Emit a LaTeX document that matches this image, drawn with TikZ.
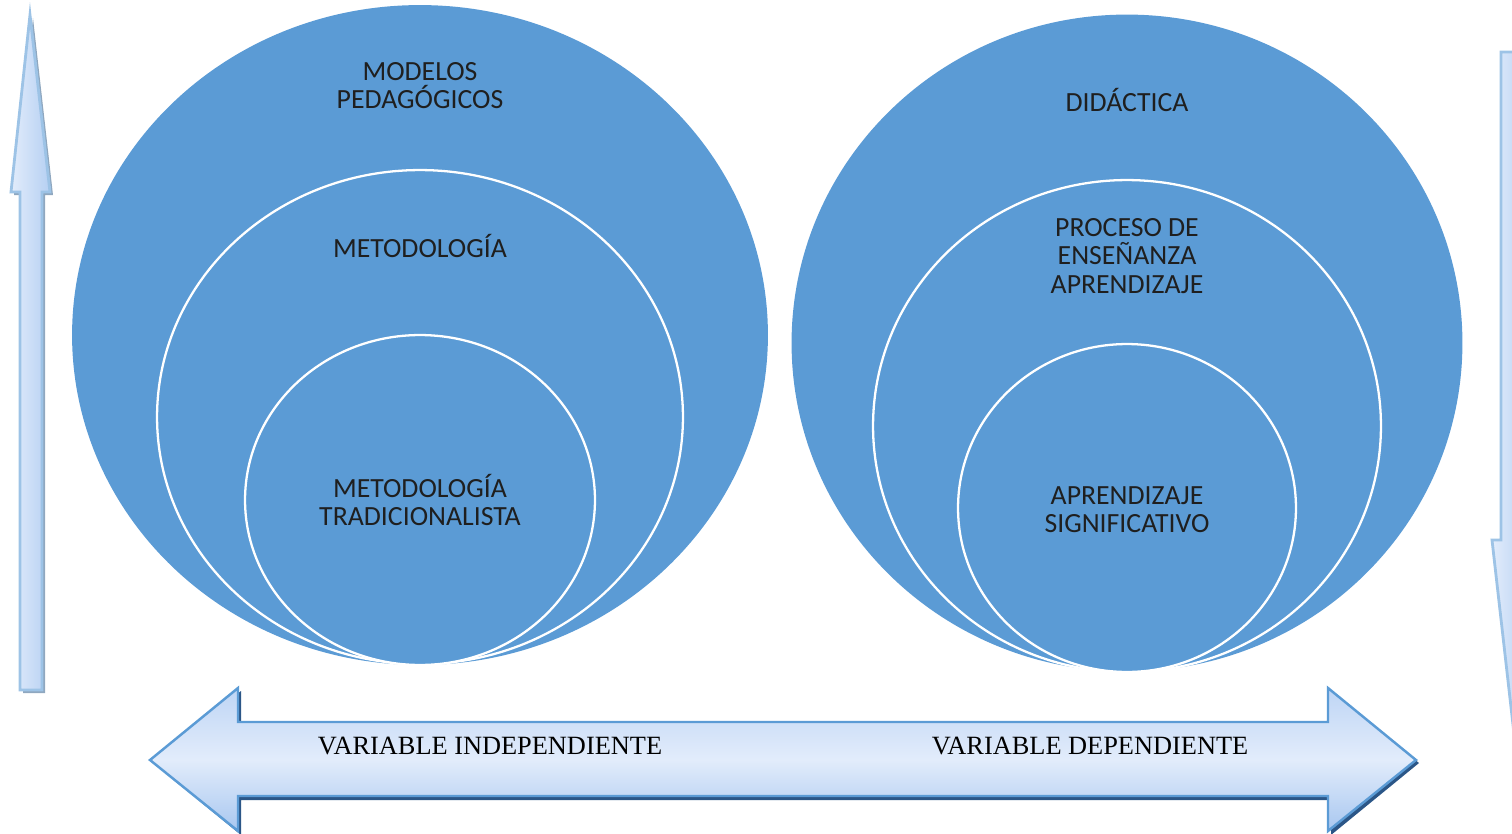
\documentclass[tikz,border=0pt]{standalone}
\usepackage{fontspec}
\setmainfont{Liberation Serif}
\newfontfamily\calfont{Carlito}
\usetikzlibrary{positioning, shapes.geometric}
\definecolor{ringblue}{HTML}{5B9BD5}
\definecolor{arrtop}{RGB}{190,213,245}
\definecolor{arrmid}{RGB}{226,236,251}
\definecolor{arrbot}{RGB}{168,199,240}
\definecolor{arrline}{HTML}{5B9BD5}
\definecolor{paleline}{HTML}{9DC3E6}
\definecolor{darkshadow}{HTML}{2B5687}
\definecolor{greyshadow}{HTML}{8FA7BF}
\tikzset{ring node/.style={ellipse,fill=ringblue,draw=white,line width=1.3pt,inner sep=0pt},
         ring text/.style={font=\calfont\fontsize{15.8}{16}\selectfont,align=center,text=black!88},
         var text/.style={font=\fontsize{15}{17}\selectfont,text=black},
         side arrow/.style={draw=paleline,line width=1.6pt,left color=arrmid,right color=arrbot!85},
         wide arrow/.style={draw=arrline,line width=1.4pt,top color=arrtop,bottom color=arrbot,middle color=arrmid},}

\begin{document}
\begin{tikzpicture}[x=0.02cm, y=-0.02cm]
   \useasboundingbox (0,0) rectangle (1512,833);
   \clip (0,0) rectangle (1512,833);
   % left rings
   \node[ring node, draw=none, minimum width=13.92cm, minimum height=13.2cm] (L1) at (420,335) {};
   \node[ring node, minimum width=10.52cm, minimum height=9.88cm] (L2) at (420,417) {};
   \node[ring node, minimum width=7cm, minimum height=6.6cm] (L3) at (420,500) {};
   % right rings
   \node[ring node, draw=none, minimum width=13.42cm, minimum height=13.14cm] (R1) at (1127,343) {};
   \node[ring node, minimum width=10.16cm, minimum height=9.84cm] (R2) at (1127,426) {};
   \node[ring node, minimum width=6.76cm, minimum height=6.56cm] (R3) at (1127,508) {};
   % ring labels
   \node[ring text] (l1) at (420,86) {MODELOS\\PEDAGÓGICOS};
   \node[ring text] (l2) at (420,246) {METODOLOGÍA};
   \node[ring text] (l3) at (420,500) {METODOLOGÍA\\TRADICIONALISTA};
   \node[ring text] (r1) at (1127,100) {DIDÁCTICA};
   \node[ring text] (r2) at (1127,256) {PROCESO DE\\ENSEÑANZA\\APRENDIZAJE};
   \node[ring text] (r3) at (1127,510) {APRENDIZAJE\\SIGNIFICATIVO};
   % left arrow, up
   \fill[greyshadow] (33,18) -- (53,195) -- (45,195) -- (45,693) -- (23,693) -- (23,195) -- (14,195) -- cycle;
   \path[side arrow] (30,15) -- (50,192) -- (42,192) -- (42,690) -- (20,690) -- (20,192) -- (11,192) -- cycle;
   % right arrow, down
   \path[side arrow] (1501,52) -- (1523,52) -- (1523,540) -- (1531,540) -- (1512,716) -- (1492,540) -- (1501,540) -- cycle;
   % double arrow
   \fill[darkshadow] (153,763) -- (241,691) -- (241,725) -- (1331,725) -- (1331,691) -- (1419,763) -- (1331,835) -- (1331,800) -- (241,800) -- (241,835) -- cycle;
   \path[wide arrow] (150,760) -- (238,688) -- (238,722) -- (1328,722) -- (1328,688) -- (1416,760) -- (1328,831) -- (1328,796) -- (238,796) -- (238,831) -- cycle;
   \node[var text] (v1) at (490,746) {VARIABLE INDEPENDIENTE};
   \node[var text] (v2) at (1090,746) {VARIABLE DEPENDIENTE};
\end{tikzpicture}
\end{document}
